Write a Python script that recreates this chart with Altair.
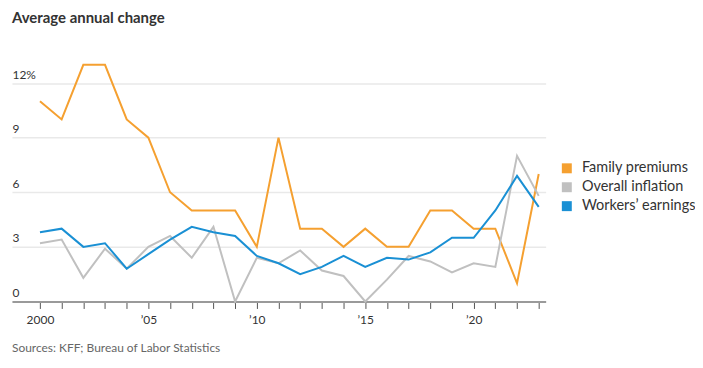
import altair as alt
import pandas as pd

years = list(range(2000, 2024))
family_premiums = [11, 10, 13, 13, 10, 9, 6, 5, 5, 5, 3, 9, 4, 4, 3, 4, 3, 3, 5, 5, 4, 4, 1, 7]
overall_inflation = [3.2, 3.4, 1.3, 2.9, 1.8, 3.0, 3.6, 2.4, 4.1, 0.0, 2.4, 2.1, 2.8, 1.7, 1.4, 0.0, 1.2, 2.5, 2.2, 1.6, 2.1, 1.9, 8.0, 5.8]
workers_earnings = [3.8, 4.0, 3.0, 3.2, 1.8, 2.6, 3.4, 4.1, 3.8, 3.6, 2.5, 2.1, 1.5, 1.9, 2.5, 1.9, 2.4, 2.3, 2.7, 3.5, 3.5, 5.0, 6.9, 5.2]

series_names = ["Family premiums", "Overall inflation", "Workers’ earnings"]
series_colors = ["#f5a030", "#c0c0c0", "#1a90d4"]
y_ticks = [0, 3, 6, 9, 12]
title_text = "Average annual change"
source_text = "Sources: KFF; Bureau of Labor Statistics"

rows = []
for name, vals in zip(series_names, [family_premiums, overall_inflation, workers_earnings]):
    for yr, v in zip(years, vals):
        rows.append({"year": yr, "series": name, "value": v})
df = pd.DataFrame(rows)

FONT = "Lato"

x_enc = alt.X("year:Q",
              scale=alt.Scale(domain=[1998.71, 2023.32], nice=False, zero=False),
              axis=alt.Axis(values=years, title=None, grid=False,
                            labelExpr="datum.value % 5 == 0 ? (datum.value == 2000 ? '2000' : '’' + slice(toString(datum.value), 2)) : ''",
                            domainColor="#9a9a9a", domainWidth=2,
                            tickColor="#555", tickSize=7, tickWidth=1,
                            labelPadding=6, labelFontSize=12, labelColor="#333",
                            labelFont=FONT))
y_enc = alt.Y("value:Q",
              scale=alt.Scale(domain=[0, 14], nice=False),
              axis=alt.Axis(values=y_ticks, title=None, domain=False, ticks=False,
                            labelAlign="left", labelBaseline="bottom", labelPadding=0,
                            labelOffset=-2, labelFontSize=12, labelColor="#333",
                            labelFont=FONT,
                            labelExpr="datum.value == 12 ? '12%' : datum.label",
                            gridColor="#e9e9e9", gridWidth=1.5))
color_scale = alt.Scale(domain=series_names, range=series_colors)

lines = alt.Chart(df).mark_line(strokeWidth=2, clip=False).encode(
    x=x_enc, y=y_enc,
    color=alt.Color("series:N", scale=color_scale, legend=None),
)

keys = alt.Chart(df).mark_square(size=0, filled=True, opacity=1).encode(
    x=x_enc, y=y_enc,
    color=alt.Color("series:N", scale=color_scale,
                    legend=alt.Legend(title=None, orient="none", legendX=550, legendY=115,
                                      symbolType="square", symbolSize=100,
                                      symbolStrokeWidth=0,
                                      labelFontSize=14.5, labelColor="#333",
                                      labelFont=FONT, rowPadding=4, labelOffset=8)),
)

source = alt.Chart(pd.DataFrame({"t": [source_text]})).mark_text(
    align="left", baseline="middle", fontSize=12, color="#666", font=FONT
).encode(text="t:N", x=alt.value(0), y=alt.value(303))

chart = alt.layer(lines, keys, source).resolve_legend(color="independent").properties(
    width=536, height=256,
    autosize=alt.AutoSizeParams(type="none"),
    padding={"left": 4, "top": 38, "right": 150, "bottom": 56},
    title=alt.TitleParams(title_text, anchor="start", frame="group", fontSize=15,
                          fontWeight="bold", color="#333", font=FONT, offset=21),
).configure_view(stroke=None)

chart.save("out.html", embed_options={"renderer": "svg", "actions": False})
